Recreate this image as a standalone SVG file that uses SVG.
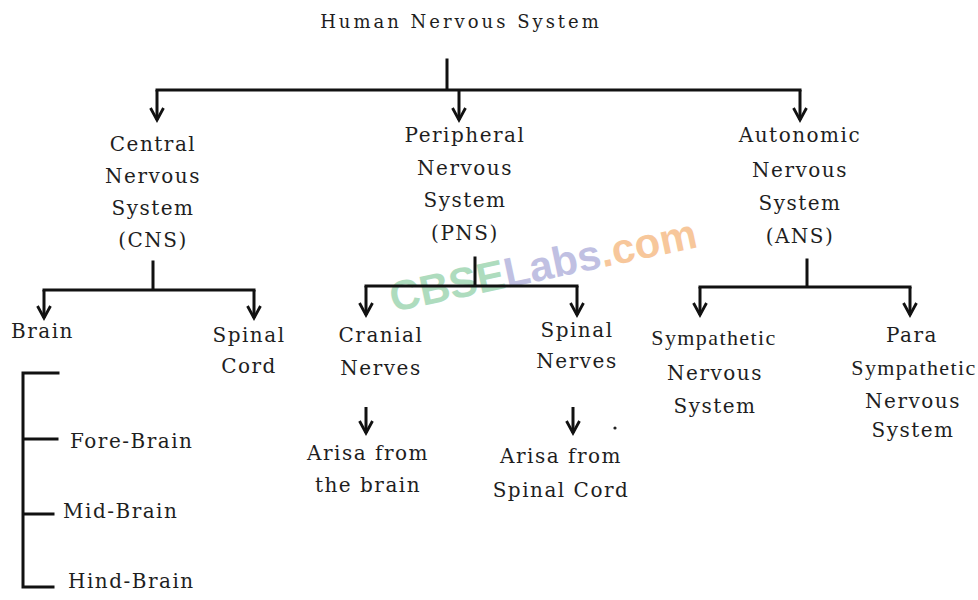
<svg xmlns="http://www.w3.org/2000/svg" width="978" height="600" viewBox="0 0 978 600">
<defs>
<style>
.t{font-family:"DejaVu Serif","Liberation Serif",serif;font-size:20px;letter-spacing:1.5px;fill:#1e1e1e;text-anchor:middle}
.s{text-anchor:start}
.n{font-family:"Liberation Serif","DejaVu Serif",serif;font-size:22px;letter-spacing:1.4px;fill:#1e1e1e;text-anchor:middle}
.ttl{font-size:18px;letter-spacing:3px}
.ln{fill:none;stroke:#111;stroke-width:3;stroke-linecap:square}
.ar{fill:none;stroke:#111;stroke-width:3;marker-end:url(#ah)}
.wm{font-family:"Liberation Sans",Arial,sans-serif;font-weight:bold;font-size:42px}
</style>
<marker id="ah" viewBox="-14 -8 16 16" refX="0" refY="0" markerWidth="16" markerHeight="16" markerUnits="userSpaceOnUse" orient="auto" overflow="visible">
<path d="M-12,-6.5 L0,0 L-12,6.5" fill="none" stroke="#111" stroke-width="2.8"/>
</marker>
</defs>
<rect width="978" height="600" fill="#ffffff"/>

<g id="watermark" class="wm" opacity="0.55" transform="rotate(-12 393 312)">
<text x="393" y="312"><tspan fill="#6cc08a">CBSE</tspan><tspan fill="#8d8dcc">Labs</tspan><tspan fill="#f29a4a">.com</tspan></text>
</g>

<g id="connectors">
<path class="ln" d="M447,60 V90 M157,90 H800"/>
<path class="ar" d="M157,90 V120"/>
<path class="ar" d="M459,90 V120"/>
<path class="ar" d="M800,90 V120"/>
<path class="ln" d="M153,262 V290 M44,290 H254"/>
<path class="ar" d="M44,290 V318"/>
<path class="ar" d="M254,290 V318"/>
<path class="ln" d="M475,258 V286 M366,286 H577"/>
<path class="ar" d="M366,286 V315"/>
<path class="ar" d="M577,286 V315"/>
<path class="ln" d="M807,260 V287 M700,287 H910"/>
<path class="ar" d="M700,287 V315"/>
<path class="ar" d="M910,287 V315"/>
<path class="ar" d="M366,407 V433"/>
<path class="ar" d="M573,407 V433"/>
<path class="ln" d="M58,373 H23 V587 H53 M23,439 H57 M23,514 H53" stroke-linecap="butt"/>
<circle cx="615" cy="428" r="1.6" fill="#222"/>
</g>

<g id="hns"><text class="t ttl" x="461" y="28">Human Nervous System</text></g>

<g id="cns" class="t">
<text x="153" y="151">Central</text>
<text x="153" y="183">Nervous</text>
<text x="153" y="215">System</text>
<text x="153" y="247">(CNS)</text>
</g>

<g id="pns" class="t">
<text x="465" y="142">Peripheral</text>
<text x="465" y="175">Nervous</text>
<text x="465" y="207">System</text>
<text x="465" y="240">(PNS)</text>
</g>

<g id="ans" class="t">
<text x="800" y="142">Autonomic</text>
<text x="800" y="177">Nervous</text>
<text x="800" y="210">System</text>
<text x="800" y="243">(ANS)</text>
</g>

<g id="brain"><text class="t s" x="11" y="338">Brain</text></g>

<g id="spinal-cord" class="t">
<text x="249" y="342">Spinal</text>
<text x="249" y="373">Cord</text>
</g>

<g id="cranial-nerves" class="t">
<text x="381" y="342">Cranial</text>
<text x="381" y="375">Nerves</text>
</g>

<g id="spinal-nerves" class="t">
<text x="577" y="337">Spinal</text>
<text x="577" y="368">Nerves</text>
</g>

<g id="arise-brain" class="t">
<text x="368" y="460">Arisa from</text>
<text x="368" y="492">the brain</text>
</g>

<g id="arise-spinal" class="t">
<text x="561" y="463">Arisa from</text>
<text x="561" y="497">Spinal Cord</text>
</g>

<g id="sympathetic">
<text class="n" x="714" y="345">Sympathetic</text>
<text class="t" x="715" y="380">Nervous</text>
<text class="t" x="715" y="413">System</text>
</g>

<g id="parasympathetic">
<text class="t" x="912" y="342">Para</text>
<text class="n" x="914" y="375">Sympathetic</text>
<text class="t" x="913" y="408">Nervous</text>
<text class="t" x="913" y="437">System</text>
</g>

<g id="fore-brain"><text class="t s" x="70" y="448">Fore-Brain</text></g>
<g id="mid-brain"><text class="t s" x="63" y="518">Mid-Brain</text></g>
<g id="hind-brain"><text class="t s" x="68" y="588">Hind-Brain</text></g>
</svg>
